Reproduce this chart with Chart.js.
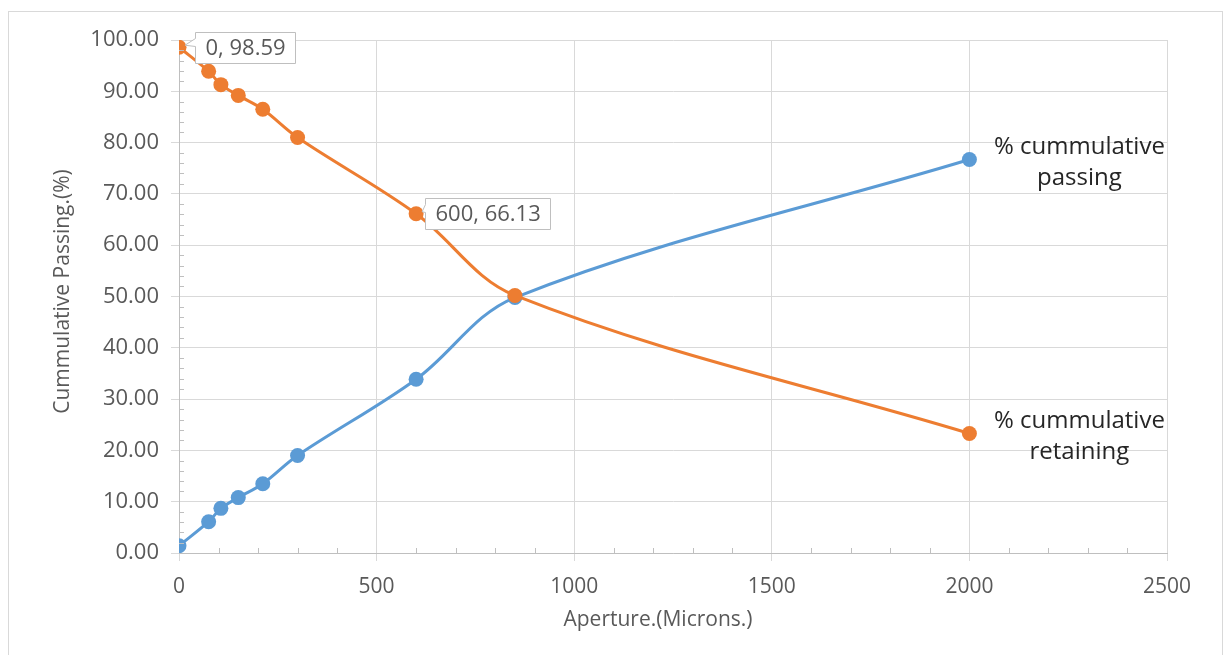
<!DOCTYPE html>
<html>
<head>
<meta charset="utf-8">
<script src="https://cdn.jsdelivr.net/npm/chart.js@4.4.1/dist/chart.umd.min.js"></script>
<style>
  html, body { margin: 0; padding: 0; background: #fff; }
  #wrap { width: 1227px; height: 655px; position: relative; }
</style>
</head>
<body>
<div id="wrap"><canvas id="sieveChart" width="1227" height="655"></canvas></div>
<script>
// sieve aperture sizes (microns)
const apertures = [0, 75, 106, 150, 212, 300, 600, 850, 2000];
const passing = [1.41, 6.1, 8.7, 10.8, 13.5, 19.0, 33.87, 49.8, 76.7];
const retaining = [98.59, 93.9, 91.3, 89.2, 86.5, 81.0, 66.13, 50.2, 23.3];

const xTicks = [0, 500, 1000, 1500, 2000, 2500];
const yTicks = [0, 10, 20, 30, 40, 50, 60, 70, 80, 90, 100];

const xTitle = 'Aperture.(Microns.)';
const yTitle = 'Cummulative Passing.(%)';

const callouts = [
    { series: 'retaining', index: 0, text: '0, 98.59', dx: 16 },
    { series: 'retaining', index: 6, text: '600, 66.13', dx: 9 }
];
const seriesNames = [
    { series: 'passing', lines: ['% cummulative', 'passing'] },
    { series: 'retaining', lines: ['% cummulative', 'retaining'] }
];

const BLUE = '#5B9BD5';
const ORANGE = '#ED7D31';
const GRID = '#d9d9d9';
const FONT = '"Open Sans", sans-serif';

function seriesData(name) {
    return name === 'passing' ? passing : retaining;
}

// frame, minor ticks, axis titles and labels drawn around the Chart.js scales
const extras = {
    id: 'extras',
    beforeDraw(chart) {
        const ctx = chart.ctx;
        ctx.save();
        ctx.fillStyle = '#fff';
        ctx.fillRect(0, 0, chart.width, chart.height);
        ctx.strokeStyle = GRID;
        ctx.lineWidth = 1;
        ctx.strokeRect(8.5, 11.5, 1214, 660);
        ctx.restore();
    },
    afterDraw(chart) {
        const ctx = chart.ctx;
        const xs = chart.scales.x, ys = chart.scales.y;
        const area = chart.chartArea;
        ctx.save();
        // minor ticks
        ctx.strokeStyle = '#bfbfbf';
        ctx.lineWidth = 1;
        ctx.beginPath();
        for (let v = 100; v < 2500; v += 100) {
            if (v % 500 === 0) continue;
            const px = Math.round(xs.getPixelForValue(v)) + 0.5;
            ctx.moveTo(px, area.bottom);
            ctx.lineTo(px, area.bottom - 5);
        }
        for (let v = 2; v < 100; v += 2) {
            if (v % 10 === 0) continue;
            const py = Math.round(ys.getPixelForValue(v)) + 0.5;
            ctx.moveTo(area.left, py);
            ctx.lineTo(area.left + 5, py);
        }
        ctx.stroke();

        // axis titles
        ctx.fillStyle = '#595959';
        ctx.font = '21px ' + FONT;
        ctx.textAlign = 'center';
        ctx.textBaseline = 'middle';
        ctx.fillText(xTitle, (area.left + area.right) / 2 - 15, 620);
        ctx.save();
        ctx.translate(63, (area.top + area.bottom) / 2 - 5);
        ctx.rotate(-Math.PI / 2);
        ctx.fillText(yTitle, 0, 0);
        ctx.restore();

        // data callouts
        ctx.font = '22px ' + FONT;
        ctx.textAlign = 'left';
        callouts.forEach(c => {
            const px = xs.getPixelForValue(apertures[c.index]);
            const py = ys.getPixelForValue(seriesData(c.series)[c.index]);
            const w = Math.round(ctx.measureText(c.text).width + 20);
            const h = 31;
            const bx = Math.round(px + c.dx) + 0.5;
            const by = Math.round(py - h / 2) + 0.5;
            ctx.fillStyle = '#fff';
            ctx.strokeStyle = '#bfbfbf';
            ctx.beginPath();
            ctx.moveTo(bx, by);
            ctx.lineTo(bx + w, by);
            ctx.lineTo(bx + w, by + h);
            ctx.lineTo(bx, by + h);
            ctx.lineTo(bx, by + 14);
            ctx.lineTo(px + 6, py - 2);
            ctx.lineTo(bx, by + 6);
            ctx.closePath();
            ctx.fill();
            ctx.stroke();
            ctx.fillStyle = '#595959';
            ctx.fillText(c.text, bx + 10, by + h / 2 + 1);
        });

        // series names next to last points
        ctx.font = '24px ' + FONT;
        ctx.textAlign = 'center';
        ctx.fillStyle = '#262626';
        seriesNames.forEach(s => {
            const last = apertures.length - 1;
            const px = xs.getPixelForValue(apertures[last]);
            const py = ys.getPixelForValue(seriesData(s.series)[last]);
            ctx.fillText(s.lines[0], px + 110, py - 12);
            ctx.fillText(s.lines[1], px + 110, py + 19);
        });
        ctx.restore();
    }
};

const ctx = document.getElementById('sieveChart').getContext('2d');
new Chart(ctx, {
    type: 'line',
    data: {
        datasets: [{
            label: '% cummulative retaining',
            data: apertures.map((a, i) => ({ x: a, y: retaining[i] })),
            borderColor: ORANGE,
            backgroundColor: ORANGE,
            borderWidth: 3,
            pointRadius: 7.5,
            pointBorderWidth: 0,
            tension: 0.35,
            order: 1
        }, {
            label: '% cummulative passing',
            data: apertures.map((a, i) => ({ x: a, y: passing[i] })),
            borderColor: BLUE,
            backgroundColor: BLUE,
            borderWidth: 3,
            pointRadius: 7.5,
            pointBorderWidth: 0,
            tension: 0.35,
            order: 2
        }]
    },
    options: {
        responsive: false,
        animation: false,
        layout: { padding: { left: 40, top: 40, right: 60, bottom: 20 } },
        plugins: {
            legend: { display: false },
            tooltip: { enabled: false }
        },
        scales: {
            x: {
                type: 'linear',
                min: 0,
                max: 2500,
                afterBuildTicks: s => { s.ticks = xTicks.map(v => ({ value: v })); },
                afterFit: s => { s.height = 655 - 20 - 553; },
                grid: { color: GRID, tickLength: 8 },
                border: { color: '#bfbfbf' },
                ticks: {
                    color: '#595959',
                    font: { family: FONT, size: 21 },
                    padding: 13,
                    callback: v => String(v)
                }
            },
            y: {
                min: 0,
                max: 100,
                afterBuildTicks: s => { s.ticks = yTicks.map(v => ({ value: v })); },
                afterFit: s => { s.width = 179 - 40; },
                grid: { color: GRID, tickLength: 8 },
                border: { color: '#bfbfbf' },
                ticks: {
                    color: '#595959',
                    font: { family: FONT, size: 22 },
                    padding: 12,
                    callback: v => v.toFixed(2)
                }
            }
        }
    },
    plugins: [extras]
});
</script>
</body>
</html>
